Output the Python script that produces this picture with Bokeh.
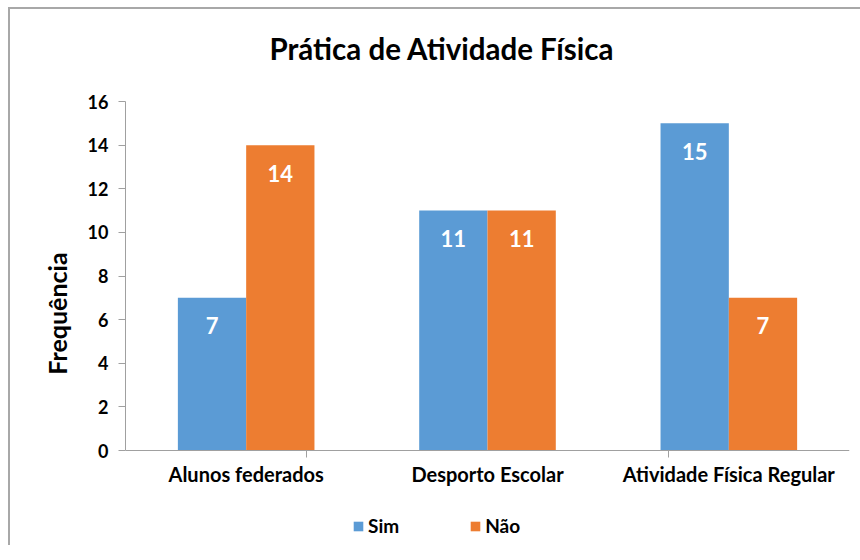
from bokeh.plotting import figure
from bokeh.models import (ColumnDataSource, FactorRange, Range1d, CategoricalAxis,
                          FixedTicker, Legend, LegendItem, Title)
from bokeh.transform import dodge
from bokeh.core.properties import value
from bokeh.embed import file_html
from bokeh.resources import INLINE

categories = ["Alunos federados", "Desporto Escolar", "Atividade Física Regular"]
sim = [7, 11, 15]
nao = [14, 11, 7]
series_names = ["Sim", "Não"]
y_ticks = [0, 2, 4, 6, 8, 10, 12, 14, 16]

FONT = "Lato"
BLUE = "#5B9BD5"
ORANGE = "#ED7D31"
AXIS = "#a0a0a0"

src = ColumnDataSource(dict(cat=categories, sim=sim, nao=nao,
                            sim_lbl=[str(v) for v in sim], nao_lbl=[str(v) for v in nao]))

# the frame reaches a little above the top tick (room under the title) and below zero
# (room for the x-axis labels and the legend, which stay inside the frame)
p = figure(x_range=FactorRange(*categories), y_range=Range1d(-4.355, 16.917),
           frame_width=724, frame_height=464,
           min_border_left=115, min_border_right=11, min_border_top=72, min_border_bottom=0,
           output_backend="svg", toolbar_location=None,
           x_axis_location=None, y_axis_location="left")
p.styles = {"margin-left": "8px", "margin-top": "7px",
            "border-top": "2px solid #a8a8a8", "border-left": "2px solid #a8a8a8"}

p.title = Title(text="Prática de Atividade Física", align="left", offset=144,
                text_font=FONT, text_font_size="29.5px", text_font_style="bold",
                text_color="#000000", standoff=32)

p.xgrid.visible = False
p.ygrid.visible = False
p.outline_line_color = None
p.background_fill_color = "white"
p.border_fill_color = "white"

bw = 0.283
r1 = p.vbar(x=dodge("cat", -bw / 2, range=p.x_range), top="sim", width=bw, source=src,
            fill_color=BLUE, line_color=None)
r2 = p.vbar(x=dodge("cat", bw / 2, range=p.x_range), top="nao", width=bw, source=src,
            fill_color=ORANGE, line_color=None)

for col, off in (("sim_lbl", -bw / 2), ("nao_lbl", bw / 2)):
    p.text(x=dodge("cat", off, range=p.x_range), y=col.replace("_lbl", ""), text=col, source=src,
           text_align="center", text_baseline="middle", y_offset=28,
           text_color="white", text_font=value(FONT), text_font_size="22px", text_font_style="bold")

# y axis
ya = p.yaxis[0]
ya.ticker = FixedTicker(ticks=y_ticks)
ya.bounds = (y_ticks[0], y_ticks[-1])
ya.axis_label = "Frequência"
ya.axis_label_text_font = FONT
ya.axis_label_text_font_size = "25px"
ya.axis_label_text_font_style = "bold"
ya.axis_label_text_color = "#000000"
ya.axis_label_standoff = 13
ya.major_label_text_font = FONT
ya.major_label_text_font_size = "18px"
ya.major_label_text_font_style = "bold"
ya.major_label_text_color = "#000000"
ya.major_label_standoff = 10
ya.major_tick_out = 7
ya.major_tick_in = 0
ya.minor_tick_line_color = None
ya.axis_line_color = AXIS
ya.major_tick_line_color = AXIS

# x axis at y = 0: ticks at the category boundaries (blank factors shifted by half a category)
bounds = [" " * (i + 1) for i in range(len(categories) + 1)]
p.extra_x_ranges = {"bnd": FactorRange(factors=bounds, range_padding=-1.0,
                                       range_padding_units="absolute")}
xb = CategoricalAxis(x_range_name="bnd", fixed_location=0,
                     major_label_text_font_size="1px", major_label_standoff=0,
                     major_tick_out=7, major_tick_in=0, minor_tick_line_color=None,
                     axis_line_color=AXIS, major_tick_line_color=AXIS)
p.add_layout(xb, "below")

xc = CategoricalAxis(fixed_location=0,
                     axis_line_color=None, major_tick_line_color=None, minor_tick_line_color=None,
                     major_label_text_font=FONT, major_label_text_font_size="20px",
                     major_label_text_font_style="bold", major_label_text_color="#000000",
                     major_label_standoff=5)
p.add_layout(xc, "below")

legend = Legend(items=[LegendItem(label=series_names[0], renderers=[r1]),
                       LegendItem(label=series_names[1], renderers=[r2])],
                orientation="horizontal", location=(227, 8),
                glyph_width=12, glyph_height=12, label_height=20, label_standoff=4,
                spacing=70, padding=0, margin=0, border_line_color=None,
                background_fill_alpha=0,
                label_text_font=FONT, label_text_font_size="19px", label_text_font_style="bold",
                label_text_color="#000000")
p.add_layout(legend)

open("out.html", "w").write(file_html(p, INLINE))
